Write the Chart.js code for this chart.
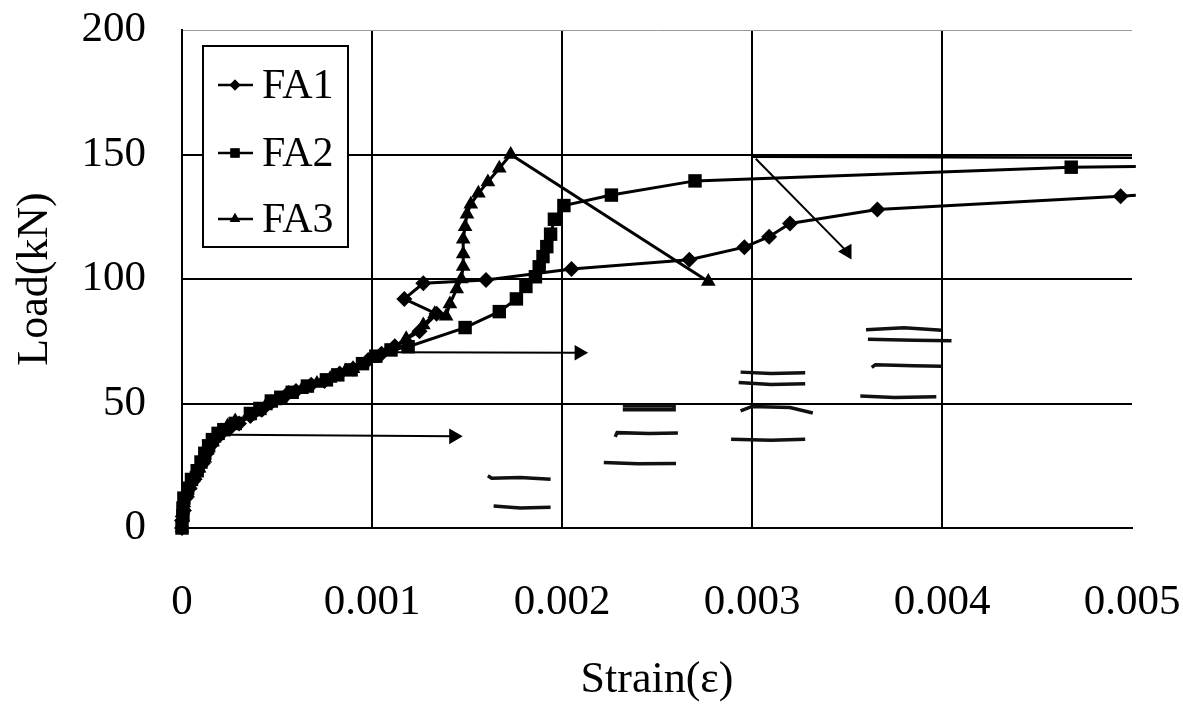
<!DOCTYPE html>
<html>
<head>
<meta charset="utf-8">
<script src="https://cdn.jsdelivr.net/npm/chart.js@4/dist/chart.umd.min.js"></script>
<style>
html,body{margin:0;padding:0;background:#fff;}
#wrap{width:1183px;height:713px;}
</style>
</head>
<body>
<div id="wrap"><canvas id="c" width="1183" height="713"></canvas></div>
<script>
// ---------- data ----------
const seriesNames = ['FA1', 'FA2', 'FA3'];
const xTickLabels = ['0', '0.001', '0.002', '0.003', '0.004', '0.005'];
const yTickLabels = ['0', '50', '100', '150', '200'];
const xTitle = 'Strain(ε)';
const yTitle = 'Load(kN)';

const FA1 = [[0,0],[0,3],[0.00001,7],[0.00002,12],[0.00004,16],[0.00006,19],[0.00008,22.5],[0.00011,26],
  [0.00013,30],[0.00015,33],[0.00018,36],[0.0002,37.5],[0.00025,40],[0.0003,42],[0.00036,45],[0.00042,47.5],
  [0.00047,50.5],[0.00055,53.5],[0.0006,55],[0.00068,57.5],[0.00075,59],[0.00083,62],[0.0009,64],
  [0.00098,67.5],[0.00105,70],[0.00112,73],[0.00125,79],[0.00134,86],[0.00117,92],[0.00127,98.3],
  [0.0016,99.6],[0.00205,104],[0.00267,107.7],[0.00296,112.8],[0.00309,117],[0.0032,122.3],
  [0.00366,127.9],[0.00494,133.2],[0.00502,133.6]];

const FA2 = [[0,0],[0.000005,5],[0.000005,8],[0.00001,12],[0.00003,16],[0.00005,19.5],[0.00008,23],
  [0.0001,26.5],[0.00012,30],[0.00014,33],[0.00016,35.5],[0.00019,38],[0.00022,39.5],[0.00028,42],
  [0.00036,46],[0.00041,48],[0.00047,51],[0.00052,52.5],[0.00058,54.5],[0.00066,57],[0.00076,59.5],
  [0.00082,61.5],[0.00089,63.5],[0.00095,66],[0.00102,69],[0.0011,71.5],[0.00119,72.8],
  [0.00149,80.5],[0.00167,86.9],[0.00176,92],[0.00181,97],[0.00186,100.9],[0.00188,104.9],[0.0019,109],
  [0.00192,113],[0.00194,118],[0.00196,124],[0.00201,129.5],[0.00226,133.7],[0.0027,139.4],
  [0.00468,144.9],[0.00502,145.2]];

const FA3 = [[0,0],[0,6],[0.00001,10],[0.00003,14],[0.00004,17],[0.00007,21],[0.00009,24],[0.00012,28],
  [0.00013,31],[0.00016,34.5],[0.00017,36],[0.00021,39],[0.00024,41],[0.00028,43],[0.00035,45],
  [0.00039,46.5],[0.00044,49],[0.00049,51],[0.00056,54],[0.00063,55.5],[0.00071,58],[0.00078,60],
  [0.00086,63],[0.0009,64],[0.001,68],[0.00108,71],[0.00118,76],
  [0.00127,81.5],[0.00133,86],[0.00139,85],[0.00141,90],[0.001446,96],[0.00147,100],[0.00148,105],
  [0.00148,110],[0.00148,116],[0.00149,121],[0.0015,126],[0.00152,130],[0.00156,134.4],[0.00161,139],
  [0.00167,144.5],[0.00173,150],[0.00277,99]];
const FA3Drop = [[0.00302,148.3],[0.0035,111]];
const FA3Flat = [[0.0030,149.1],[0.0050,148.7]];

const arrowUpper = [[0.00113,70.6],[0.00209,70.4]];
const arrowLower = [[0.00025,37.4],[0.00143,36.8]];

// faint traces in the plot area (bleed-through strokes)
const traces = [
  [[0.00161,21],[0.00163,20],[0.00178,20.3],[0.00194,19.6]],
  [[0.00164,8.8],[0.00178,8.0],[0.00194,8.3]],
  [[0.00222,26.3],[0.00240,25.8],[0.0026,25.9]],
  [[0.00228,36.6],[0.00229,38.3],[0.00246,38.0],[0.00261,38.2]],
  [[0.00232,49.0],[0.00259,49.0],[0.00259,47.5],[0.00232,47.5]],
  [[0.00289,35.6],[0.00310,35.2],[0.00328,35.6]],
  [[0.00294,47.0],[0.00300,48.8],[0.00320,48.4],[0.00332,46.2]],
  [[0.00293,58.4],[0.00310,57.6],[0.00328,57.9]],
  [[0.00294,62.6],[0.00310,62.0],[0.00328,62.3]],
  [[0.00357,53.0],[0.00375,52.4],[0.00397,52.7]],
  [[0.00363,64.5],[0.00365,65.6],[0.00385,65.2],[0.004,65.0]],
  [[0.00361,75.8],[0.00385,75.4],[0.00405,75.2]],
  [[0.0036,79.6],[0.00380,80.4],[0.004,79.4]]
];

// ---------- helpers ----------
const toXY = arr => arr.map(p => ({x: p[0], y: p[1]}));
const serif = '"Liberation Serif", "Times New Roman", "DejaVu Serif", serif';
const BLACK = '#000';

function seriesDataset(label, data, style, radius, openEnd) {
  return {
    label, data: toXY(data), showLine: true, borderColor: BLACK, backgroundColor: BLACK,
    borderWidth: 3, pointStyle: style, pointBorderWidth: 0,
    pointRadius: ctx => (openEnd && ctx.dataIndex === ctx.dataset.data.length - 1) ? 0 : radius,
    pointBackgroundColor: BLACK, tension: 0, clip: 8
  };
}

const datasets = [
  seriesDataset(seriesNames[0], FA1, 'rectRot', 8, true),
  seriesDataset(seriesNames[1], FA2, 'rect', 9.5, true),
  seriesDataset(seriesNames[2], FA3, 'triangle', 8.5, false),
  {label: '', data: toXY(FA3Drop), showLine: true, borderColor: BLACK, backgroundColor: BLACK, borderWidth: 2,
   pointStyle: 'triangle', pointRadius: ctx => ctx.dataIndex === 1 ? 9 : 0, pointRotation: 150, pointBorderWidth: 0},
  {label: '', data: toXY(FA3Flat), showLine: true, borderColor: BLACK, borderWidth: 2.5, pointRadius: 0},
  {label: '', data: toXY(arrowUpper), showLine: true, borderColor: BLACK, backgroundColor: BLACK, borderWidth: 2,
   pointStyle: 'triangle', pointRadius: ctx => ctx.dataIndex === 1 ? 9 : 0, pointRotation: 90, pointBorderWidth: 0},
  {label: '', data: toXY(arrowLower), showLine: true, borderColor: BLACK, backgroundColor: BLACK, borderWidth: 2,
   pointStyle: 'triangle', pointRadius: ctx => ctx.dataIndex === 1 ? 9 : 0, pointRotation: 90, pointBorderWidth: 0}
];
traces.forEach(t => datasets.push({label: '', data: toXY(t), showLine: true, borderColor: '#111',
  borderWidth: 3.5, pointRadius: 0}));

// custom boxed legend drawn inside the plot
const legendBox = {
  id: 'legendBox',
  afterDraw(chart) {
    const ctx = chart.ctx;
    const area = chart.chartArea;
    const bx = area.left + 21, by = area.top + 16, bw = 145, bh = 201;
    ctx.save();
    ctx.fillStyle = '#fff';
    ctx.fillRect(bx, by, bw, bh);
    ctx.strokeStyle = BLACK;
    ctx.lineWidth = 2;
    ctx.strokeRect(bx, by, bw, bh);
    const styles = ['rectRot', 'rect', 'triangle'];
    const radii = [5.5, 6.5, 6];
    const rowY = [39, 107, 173];
    ctx.font = '42px ' + serif;
    ctx.textBaseline = 'middle';
    ctx.textAlign = 'left';
    for (let i = 0; i < 3; i++) {
      const y = by + rowY[i];
      ctx.beginPath();
      ctx.moveTo(bx + 15, y); ctx.lineTo(bx + 50, y);
      ctx.lineWidth = 2.5; ctx.strokeStyle = BLACK; ctx.stroke();
      ctx.fillStyle = BLACK;
      Chart.helpers.drawPoint(ctx, {pointStyle: styles[i], radius: radii[i], borderWidth: 0, rotation: 0}, bx + 32, y);
      ctx.fill();
      ctx.fillStyle = BLACK;
      ctx.fillText(chart.data.datasets[i].label, bx + 59, y + 2);
    }
    ctx.restore();
  }
};

const tickFont = {family: serif, size: 43};
const titleFont = {family: serif, size: 44};
const noScalePadding = s => { s.paddingTop = 0; s.paddingBottom = 0; s.paddingLeft = 0; s.paddingRight = 0; };

new Chart(document.getElementById('c'), {
  type: 'scatter',
  data: {datasets},
  plugins: [legendBox],
  options: {
    responsive: false,
    animation: false,
    devicePixelRatio: 1,
    layout: {padding: {top: 30, right: 51, left: 0, bottom: 0}},
    plugins: {legend: {display: false}, tooltip: {enabled: false}},
    scales: {
      x: {
        type: 'linear', min: 0, max: 0.005,
        afterBuildTicks: s => { s.ticks = xTickLabels.map(v => ({value: Number(v)})); },
        afterFit: s => { s.height = 185; noScalePadding(s); },
        grid: {color: c => (c.tick && c.tick.value >= 0.005) ? 'rgba(0,0,0,0)' : BLACK, lineWidth: 2, drawTicks: false},
        border: {color: BLACK, width: 2},
        ticks: {padding: 49, color: BLACK, font: tickFont, maxRotation: 0, autoSkip: false,
                callback: (v, i) => xTickLabels[i]},
        title: {display: true, text: xTitle, color: BLACK, font: titleFont, padding: {top: 0, bottom: 6}}
      },
      y: {
        type: 'linear', min: 0, max: 200,
        afterBuildTicks: s => { s.ticks = yTickLabels.map(v => ({value: Number(v)})); },
        afterFit: s => { s.width = 182; noScalePadding(s); },
        grid: {color: c => (c.tick && c.tick.value >= 200) ? '#9a9a9a' : BLACK,
               lineWidth: c => (c.tick && c.tick.value >= 200) ? 1 : 2, drawTicks: false},
        border: {color: BLACK, width: 2},
        ticks: {padding: 36, color: BLACK, font: tickFont, autoSkip: false,
                callback: (v, i) => yTickLabels[i]},
        title: {display: true, text: yTitle, color: BLACK, font: titleFont, padding: {top: 9, bottom: 0}}
      }
    }
  }
});
</script>
</body>
</html>
